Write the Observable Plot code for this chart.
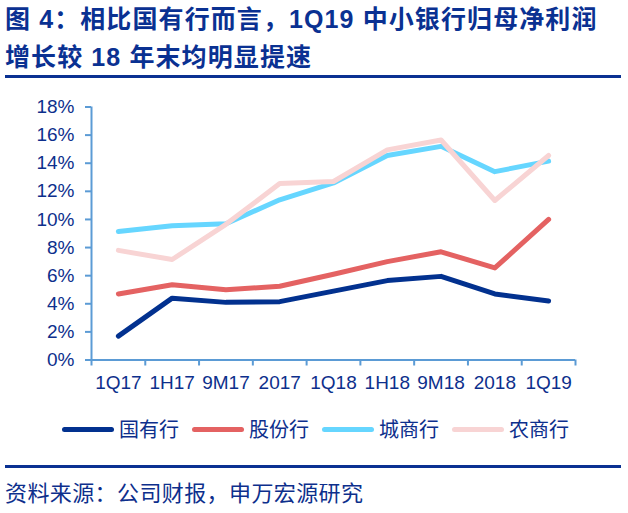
<!DOCTYPE html>
<html>
<head>
<meta charset="utf-8">
<script src="https://cdn.jsdelivr.net/npm/d3@7"></script>
<script src="https://cdn.jsdelivr.net/npm/@observablehq/plot@0.6"></script>
<style>
  html, body { margin: 0; padding: 0; background: #fff; }
  #wrap { position: relative; width: 628px; height: 513px; overflow: hidden; background: #fff;
          font-family: "Liberation Sans", Arial, "Noto Sans CJK SC", sans-serif; color: #0d2f8c; }
  #title { position: absolute; left: 5px; top: 0px; font-size: 25px; font-weight: bold; line-height: 38px;
           letter-spacing: 1.1px; color: #0a3192; white-space: nowrap; }
  .rule { position: absolute; left: 5px; width: 616px; height: 3px; background: #0a3192; }
  #chart { position: absolute; left: 0; top: 90px; }
  #legend { position: absolute; left: 62px; top: 419px; height: 20px; display: flex; align-items: center; }
  .item { display: flex; align-items: center; margin-right: 13px; }
  .swatch { width: 52px; height: 5px; border-radius: 3px; margin-right: 5px; }
  .lab { font-size: 20px; line-height: 20px; font-family: "Noto Sans CJK SC", sans-serif; color: #0d2f8c; }
  #source { position: absolute; left: 5px; top: 480px; font-size: 22px; line-height: 22px; letter-spacing: 0.4px;
            font-family: "Noto Sans CJK SC", sans-serif; color: #0d2f8c; white-space: nowrap; }
</style>
</head>
<body>
<div id="wrap">
  <div id="title">图 4：相比国有行而言，1Q19 中小银行归母净利润<br>增长较 18 年末均明显提速</div>
  <div class="rule" style="top:75px"></div>
  <div id="chart"></div>
  <div id="legend"></div>
  <div class="rule" style="top:465px"></div>
  <div id="source">资料来源：公司财报，申万宏源研究</div>
</div>
<script>
const categories = ["1Q17", "1H17", "9M17", "2017", "1Q18", "1H18", "9M18", "2018", "1Q19"];
const yTicks = [0, 2, 4, 6, 8, 10, 12, 14, 16, 18];
const seriesNames = ["国有行", "股份行", "城商行", "农商行"];
const seriesColors = ["#02318f", "#e46262", "#66d6ff", "#f8d4d4"];
const stateOwned = [1.7, 4.4, 4.1, 4.15, 4.9, 5.65, 5.95, 4.7, 4.2];
const jointStock = [4.7, 5.35, 5.0, 5.25, 6.1, 7.0, 7.7, 6.55, 10.0];
const cityComm = [9.15, 9.55, 9.7, 11.4, 12.6, 14.55, 15.2, 13.4, 14.15];
const ruralComm = [7.8, 7.15, 9.65, 12.55, 12.7, 14.95, 15.65, 11.35, 14.55];
const seriesValues = [stateOwned, jointStock, cityComm, ruralComm];

const axisColor = "#5b9bd5";
const textColor = "#0d2f8c";

const rows = seriesNames.map((name, s) =>
  seriesValues[s].map((v, i) => ({series: name, i, cat: categories[i], v})));
const boundaries = d3.range(0, categories.length + 1);
const labelRows = categories.map((c, i) => ({i, c}));

const lineMarks = rows.map((data, s) =>
  Plot.line(data, {x: d => d.i + 0.5, y: "v", stroke: seriesColors[s], strokeWidth: 5,
                   strokeLinejoin: "round", strokeLinecap: "round"}));

const chart = Plot.plot({
  width: 628,
  height: 310,
  marginLeft: 91,
  marginRight: 53,
  marginTop: 16.5,
  marginBottom: 40.5,
  style: {fontFamily: "'Liberation Sans', Arial, sans-serif", background: "transparent", color: textColor},
  x: {domain: [0, categories.length], label: null},
  y: {domain: [0, 18], label: null},
  marks: [
    Plot.axisY({ticks: yTicks, tickSize: 6, tickPadding: 11, tickFormat: d => d + "%", fontSize: 19,
                stroke: axisColor, strokeWidth: 2, fill: textColor, label: null}),
    Plot.axisX({ticks: boundaries, tickSize: 6, tickFormat: () => "", stroke: axisColor, strokeWidth: 2, label: null}),
    Plot.ruleX([0], {stroke: axisColor, strokeWidth: 2}),
    Plot.ruleY([0], {stroke: axisColor, strokeWidth: 2}),
    Plot.text(labelRows, {x: d => d.i + 0.5, y: () => 0, text: "c", fontSize: 19, fill: textColor,
                          lineAnchor: "top", dy: 15.5, textAnchor: "middle"}),
    ...lineMarks
  ]
});
document.getElementById("chart").appendChild(chart);

const legend = document.getElementById("legend");
seriesNames.forEach((name, s) => {
  const item = document.createElement("div");
  item.className = "item";
  const sw = document.createElement("span");
  sw.className = "swatch";
  sw.style.background = seriesColors[s];
  const lab = document.createElement("span");
  lab.className = "lab";
  lab.textContent = name;
  item.appendChild(sw);
  item.appendChild(lab);
  legend.appendChild(item);
});
</script>
</body>
</html>
